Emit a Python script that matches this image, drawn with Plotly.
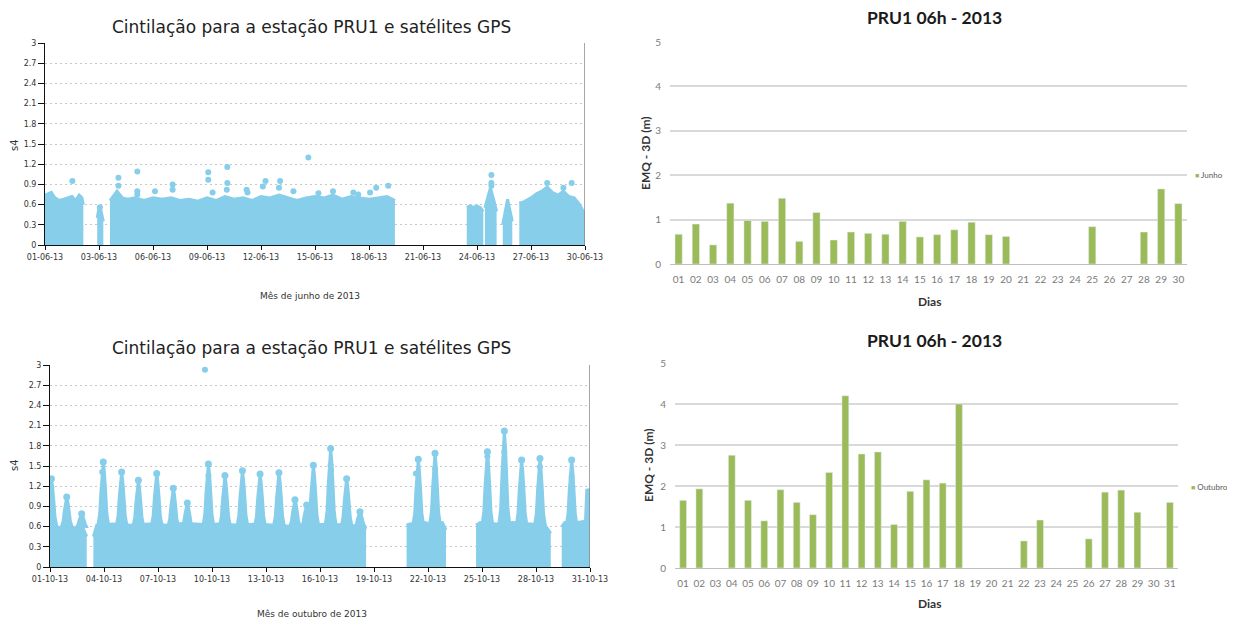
import plotly.graph_objects as go

# ---------------- DATA ----------------
jun_days = ["%02d" % d for d in range(1, 31)]
jun_emq = [0.67, 0.90, 0.43, 1.37, 0.98, 0.96, 1.48, 0.51, 1.16, 0.54,
           0.72, 0.69, 0.67, 0.96, 0.61, 0.66, 0.77, 0.94, 0.66, 0.62,
           None, None, None, None, 0.84, None, None, 0.72, 1.69, 1.36]
oct_days = ["%02d" % d for d in range(1, 32)]
oct_emq = [1.65, 1.93, None, 2.75, 1.65, 1.15, 1.91, 1.60, 1.30, 2.33,
           4.20, 2.78, 2.83, 1.06, 1.87, 2.15, 2.07, 4.00, None, None,
           None, 0.66, 1.17, None, None, 0.71, 1.85, 1.90, 1.36, None, 1.60]

jun_cloud = [
    ([0.0, 0.15, 0.35, 0.55, 0.8, 1.05, 1.3, 1.5, 1.7, 1.9, 2.05, 2.13],
     [0.74, 0.76, 0.78, 0.70, 0.66, 0.68, 0.70, 0.72, 0.66, 0.74, 0.70, 0.60]),
    ([2.90, 3.0, 3.1, 3.24],
     [0.40, 0.55, 0.52, 0.35]),
    ([3.61, 3.8, 4.0, 4.3, 4.6, 5.0, 5.5, 6.0, 6.5, 7.0, 7.5, 8.0, 8.5, 9.0, 9.5,
      10.0, 10.5, 11.0, 11.5, 12.0, 12.5, 13.0, 13.5, 14.0, 14.5, 15.0, 15.5, 16.0,
      16.5, 17.0, 17.5, 18.0, 18.5, 19.0, 19.44],
     [0.66, 0.72, 0.80, 0.70, 0.68, 0.70, 0.66, 0.70, 0.68, 0.70, 0.66, 0.68, 0.65,
      0.70, 0.66, 0.72, 0.68, 0.70, 0.66, 0.72, 0.70, 0.74, 0.70, 0.66, 0.70, 0.72,
      0.70, 0.74, 0.68, 0.72, 0.70, 0.68, 0.70, 0.72, 0.66]),
    ([23.43, 23.6, 23.8, 24.0, 24.2, 24.35],
     [0.56, 0.58, 0.56, 0.58, 0.55, 0.50]),
    ([24.44, 24.6, 24.75, 24.9, 25.09],
     [0.55, 0.72, 0.85, 0.70, 0.50]),
    ([25.43, 25.6, 25.7, 25.8, 25.96],
     [0.30, 0.55, 0.68, 0.55, 0.35]),
    ([26.35, 26.6, 27.0, 27.3, 27.6, 27.9, 28.2, 28.5, 28.8, 29.1, 29.4, 29.7, 30.0],
     [0.62, 0.64, 0.70, 0.76, 0.80, 0.86, 0.78, 0.74, 0.80, 0.72, 0.70, 0.60, 0.45]),
]
jun_out_t = [1.52, 4.08, 4.08, 5.13, 5.13, 5.13, 6.11, 7.09, 7.09, 9.07, 9.07, 9.31,
             10.13, 10.13, 10.10, 11.2, 11.25, 12.1, 12.25, 13.06, 13.0, 13.8, 14.63,
             15.19, 16.0, 17.13, 17.4, 18.06, 18.4, 19.07, 24.8, 24.8, 24.8, 27.9,
             28.8, 29.26, 3.05]
jun_out_v = [0.95, 1.00, 0.88, 1.09, 0.80, 0.75, 0.80, 0.90, 0.82, 1.08, 0.97, 0.78,
             1.16, 0.92, 0.82, 0.82, 0.78, 0.87, 0.95, 0.95, 0.85, 0.80, 1.30,
             0.77, 0.80, 0.78, 0.75, 0.78, 0.85, 0.88, 1.04, 0.92, 0.88, 0.92,
             0.85, 0.92, 0.56]

oct_cloud = [
    ([0.0, 0.3, 0.6, 1.0, 1.4, 1.8, 2.04],
     [0.62, 0.60, 0.58, 0.60, 0.58, 0.60, 0.45]),
    ([2.41, 2.6, 3.5, 4.5, 5.5, 6.5, 7.5, 8.5, 9.5, 10.5, 11.5, 12.5, 13.5, 14.5,
      15.5, 16.5, 17.3, 17.56],
     [0.45, 0.62, 0.64, 0.62, 0.64, 0.62, 0.65, 0.63, 0.64, 0.62, 0.64, 0.62, 0.60,
      0.62, 0.64, 0.62, 0.60, 0.55]),
    ([19.81, 20.0, 20.8, 21.2, 21.8, 22.0],
     [0.62, 0.64, 0.66, 0.64, 0.66, 0.55]),
    ([23.67, 23.9, 24.8, 25.7, 26.7, 27.5, 27.82],
     [0.62, 0.66, 0.64, 0.66, 0.64, 0.62, 0.50]),
    ([28.43, 28.6, 29.3, 29.75, 29.82, 30.0],
     [0.60, 0.66, 0.66, 0.68, 1.14, 1.15]),
]
oct_spike_t = [0.08, 0.93, 1.76, 2.96, 3.98, 4.91, 5.93, 6.85, 7.63, 8.80, 9.72,
               10.69, 11.67, 12.72, 13.61, 14.26, 14.63, 15.59, 16.48, 17.22,
               20.46, 21.39, 24.30, 25.24, 26.20, 27.22, 28.98]
oct_spike_v = [1.31, 1.04, 0.79, 1.56, 1.41, 1.29, 1.39, 1.17, 0.95, 1.53, 1.36,
               1.43, 1.38, 1.40, 1.00, 0.92, 1.51, 1.76, 1.31, 0.82,
               1.60, 1.69, 1.71, 2.02, 1.59, 1.61, 1.59]
oct_out_t = [8.61, 2.90, 8.80, 15.59, 15.62, 20.33, 21.39, 24.30, 25.24, 27.22,
             7.63, 17.22, 28.98]
oct_out_v = [2.93, 1.41, 1.36, 1.51, 1.44, 1.39, 1.46, 1.64, 1.71, 1.49,
             0.79, 0.70, 1.34]

s4_ticks = [0, 0.3, 0.6, 0.9, 1.2, 1.5, 1.8, 2.1, 2.4, 2.7, 3]
s4_ticktext = ["0", "0.3", "0.6", "0.9", "1.2", "1.5", "1.8", "2.1", "2.4", "2.7", "3"]
jun_tickpos = [0, 3, 6, 9, 12, 15, 18, 21, 24, 27, 30]
jun_ticktext = ["01-06-13", "03-06-13", "06-06-13", "09-06-13", "12-06-13", "15-06-13",
                "18-06-13", "21-06-13", "24-06-13", "27-06-13", "30-06-13"]
oct_tickpos = [0, 3, 6, 9, 12, 15, 18, 21, 24, 27, 30]
oct_ticktext = ["01-10-13", "04-10-13", "07-10-13", "10-10-13", "13-10-13", "16-10-13",
                "19-10-13", "22-10-13", "25-10-13", "28-10-13", "31-10-13"]

# ---------------- STYLE ----------------
OFF = 8                      # page body margin
W, H = 1235 - OFF, 623 - OFF
BLUE = "#87CEEB"
GREEN = "#9BBB59"
SFONT = "DejaVu Sans"
BFONT = "Lato"


def px(x):
    return (x - OFF) / W


def py(y):
    return 1 - (y - OFF) / H


fig = go.Figure()


def add_cloud(segments, xa, ya):
    for t, v in segments:
        fig.add_trace(go.Scatter(x=t, y=v, mode="lines", fill="tozeroy",
                                 line=dict(color=BLUE, width=3), fillcolor=BLUE,
                                 xaxis=xa, yaxis=ya, showlegend=False, hoverinfo="skip"))


def add_spikes(ts, vs, base, xa, ya):
    xs, ys = [], []
    for t, p in zip(ts, vs):
        h = p - base
        xs += [t - 0.36, t - 0.24, t - 0.17, t - 0.1, t - 0.04, t + 0.04, t + 0.1,
               t + 0.17, t + 0.24, t + 0.36, None]
        ys += [base - 0.02, base + 0.2 * h, base + 0.55 * h, base + 0.85 * h, p, p,
               base + 0.85 * h, base + 0.55 * h, base + 0.2 * h, base - 0.02, None]
    fig.add_trace(go.Scatter(x=xs, y=ys, mode="lines", fill="toself",
                             line=dict(color=BLUE, width=1.5), fillcolor=BLUE,
                             xaxis=xa, yaxis=ya, showlegend=False, hoverinfo="skip"))
    fig.add_trace(go.Scatter(x=ts, y=vs, mode="markers",
                             marker=dict(color=BLUE, size=7),
                             xaxis=xa, yaxis=ya, showlegend=False))


add_cloud(jun_cloud, "x", "y")
fig.add_trace(go.Scatter(x=jun_out_t, y=jun_out_v, mode="markers",
                         marker=dict(color=BLUE, size=6), xaxis="x", yaxis="y",
                         showlegend=False))
add_cloud(oct_cloud, "x2", "y2")
add_spikes(oct_spike_t, oct_spike_v, 0.6, "x2", "y2")
fig.add_trace(go.Scatter(x=oct_out_t, y=oct_out_v, mode="markers",
                         marker=dict(color=BLUE, size=6), xaxis="x2", yaxis="y2",
                         showlegend=False))

fig.add_trace(go.Bar(x=jun_days, y=jun_emq, marker_color=GREEN, width=0.42,
                     xaxis="x3", yaxis="y3", name="Junho", showlegend=False))
fig.add_trace(go.Bar(x=oct_days, y=oct_emq, marker_color=GREEN, width=0.42,
                     xaxis="x4", yaxis="y4", name="Outubro", showlegend=False))

s4_x = dict(range=[0, 30], showgrid=False, zeroline=False, showline=True,
            linecolor="#111", linewidth=1, ticks="outside", ticklen=4, tickcolor="#111",
            tickfont=dict(family=SFONT, size=8, color="#333"), layer="below traces",
            automargin=False)
s4_y = dict(range=[0, 3], tickvals=s4_ticks, ticktext=s4_ticktext, showgrid=True,
            gridcolor="#c8c8c8", griddash="2px,3px", zeroline=False, showline=True,
            linecolor="#111", linewidth=1, ticks="outside", ticklen=6, tickcolor="#111",
            tickfont=dict(family=SFONT, size=8, color="#333"), layer="above traces",
            automargin=False)
bar_x = dict(type="category", showline=True, linecolor="#bfbfbf", linewidth=1,
             ticks="", showgrid=False, automargin=False, ticklabelstandoff=6,
             tickfont=dict(family=BFONT, size=10, color="#7a7a7a"))
bar_y = dict(range=[0, 5], dtick=1, showgrid=True, gridcolor="#d9d9d9", gridwidth=1.5,
             zeroline=False, showline=False, ticks="", automargin=False,
             ticklabelstandoff=8,
             tickfont=dict(family=BFONT, size=10, color="#7a7a7a"))

fig.update_layout(
    width=W, height=H, margin=dict(l=0, r=0, t=0, b=0, pad=0, autoexpand=False),
    paper_bgcolor="white", plot_bgcolor="white", showlegend=False,
    xaxis=dict(s4_x, domain=[px(45), px(585)], anchor="y", tickvals=jun_tickpos,
               ticktext=jun_ticktext),
    yaxis=dict(s4_y, domain=[py(245), py(43)], anchor="x"),
    xaxis2=dict(s4_x, domain=[px(50), px(590)], anchor="y2", tickvals=oct_tickpos,
                ticktext=oct_ticktext),
    yaxis2=dict(s4_y, domain=[py(567), py(365)], anchor="x2"),
    xaxis3=dict(bar_x, domain=[px(670), px(1187)], anchor="y3"),
    yaxis3=dict(bar_y, domain=[py(264), py(42)], anchor="x3"),
    xaxis4=dict(bar_x, domain=[px(675), px(1178)], anchor="y4"),
    yaxis4=dict(bar_y, domain=[py(568), py(363)], anchor="x4"),
)

fig.add_shape(type="line", xref="x", yref="y", x0=30, x1=30, y0=0, y1=3,
              line=dict(color="#888", width=1.5))
fig.add_shape(type="line", xref="x2", yref="y2", x0=30, x1=30, y0=0, y1=3,
              line=dict(color="#888", width=1.5))

ann = []
title_s4 = "Cintilação para a estação PRU1 e satélites GPS"
for yy in (27, 348):
    ann.append(dict(text=title_s4, x=px(311), y=py(yy), font=dict(family=SFONT, size=17, color="#222")))
ann.append(dict(text="Mês de junho de 2013", x=px(310), y=py(296),
                font=dict(family=SFONT, size=9, color="#333")))
ann.append(dict(text="Mês de outubro de 2013", x=px(312), y=py(614),
                font=dict(family=SFONT, size=9, color="#333")))
for yy in (145, 465):
    ann.append(dict(text="s4", x=px(14), y=py(yy), textangle=-90,
                    font=dict(family=SFONT, size=10, color="#333")))
for yy in (17, 340):
    ann.append(dict(text="<b>PRU1 06h - 2013</b>", x=px(934), y=py(yy),
                    font=dict(family=BFONT, size=17.5, color="#1a1a1a")))
ann.append(dict(text="<b>EMQ - 3D (m)</b>", x=px(645), y=py(153), textangle=-90,
                font=dict(family=BFONT, size=12, color="#333")))
ann.append(dict(text="<b>EMQ - 3D (m)</b>", x=px(648), y=py(465), textangle=-90,
                font=dict(family=BFONT, size=12, color="#333")))
ann.append(dict(text="<b>Dias</b>", x=px(929), y=py(301), font=dict(family=BFONT, size=12, color="#333")))
ann.append(dict(text="<b>Dias</b>", x=px(929), y=py(603), font=dict(family=BFONT, size=12, color="#333")))
ann.append(dict(text='<span style="color:%s;font-size:7px">■</span> Junho' % GREEN,
                x=px(1193), y=py(175), xanchor="left",
                font=dict(family=BFONT, size=8, color="#595959")))
ann.append(dict(text='<span style="color:%s;font-size:7px">■</span> Outubro' % GREEN,
                x=px(1189), y=py(487), xanchor="left",
                font=dict(family=BFONT, size=8, color="#595959")))
for a in ann:
    a.setdefault("xanchor", "center")
    a.update(xref="paper", yref="paper", yanchor="middle", showarrow=False)
fig.update_layout(annotations=ann)

fig.write_html("out.html", config={"displayModeBar": False})
